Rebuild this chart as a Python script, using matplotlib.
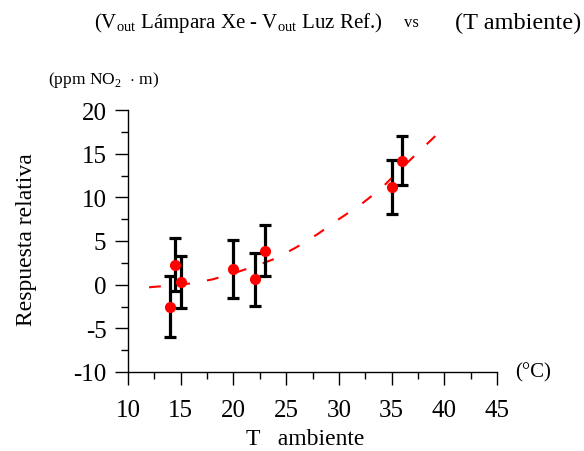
import matplotlib

matplotlib.use("Agg")
import matplotlib.pyplot as plt
from matplotlib.ticker import MultipleLocator

plt.rcParams["font.family"] = ["Liberation Serif", "DejaVu Serif"]
plt.rcParams["mathtext.fontset"] = "custom"
plt.rcParams["mathtext.rm"] = "Liberation Serif"
plt.rcParams["axes.unicode_minus"] = False
plt.rcParams["lines.scale_dashes"] = False

# measured points
temp = [14.0, 14.5, 15.0, 20.0, 22.0, 23.0, 35.0, 36.0]
resp = [-2.5, 2.3, 0.3, 1.8, 0.6, 3.9, 11.2, 14.2]
resp_err = [3.5, 3.0, 3.0, 3.3, 3.0, 2.9, 3.1, 2.8]

# dashed trend curve
fit_temp = [12, 14, 16, 18, 20, 22, 24, 26, 28, 30, 32, 34, 36, 38, 40]
fit_resp = [-0.3, -0.1, 0.15, 0.6, 1.3, 2.1, 3.0, 4.3, 5.8, 7.5, 9.1, 11.0, 13.4, 15.7, 18.0]

fig = plt.figure(figsize=(5.84, 4.52), dpi=100)
W, H = 584, 452
ax = fig.add_axes([128 / W, 1 - 373 / H, (497 - 128) / W, (373 - 111) / H])

ax.plot(fit_temp, fit_resp, color="#ff0000", lw=1.5, dashes=(8.5, 12.5), zorder=1)
ax.errorbar(temp, resp, yerr=resp_err, fmt="none", ecolor="black",
            elinewidth=2.3, capsize=4, capthick=2.3, zorder=2)
ax.plot(temp, resp, "o", color="#ff0000", markersize=7, zorder=3)

ax.set_xlim(10, 45)
ax.set_ylim(-10, 20)
ax.xaxis.set_major_locator(MultipleLocator(5))
ax.xaxis.set_minor_locator(MultipleLocator(2.5))
ax.yaxis.set_major_locator(MultipleLocator(5))
ax.yaxis.set_minor_locator(MultipleLocator(2.5))
ax.tick_params(which="major", direction="out", length=9.5, width=1.0,
               labelsize=18, color="black")
ax.tick_params(which="minor", direction="out", length=5, width=1.0)
ax.tick_params(axis="x", which="major", pad=10)
ax.tick_params(axis="y", which="major", pad=6)
for side in ("top", "right"):
    ax.spines[side].set_visible(False)
for side in ("left", "bottom"):
    ax.spines[side].set_linewidth(1.0)

fig.text(27 / W, 1 - 240 / H, "Respuesta relativa", fontsize=17, rotation=90,
         ha="center", va="center")
fig.text(305 / W, 1 - 440 / H, "T   ambiente", fontsize=17, ha="center", va="center")
fig.text(515 / W, 1 - 373 / H, "(°C)", fontsize=15, ha="left", va="center")
fig.text(48 / W, 1 - 80 / H, r"(ppm NO$_2$  $\cdot$ m)", fontsize=12.5, ha="left", va="center")

fig.text(94 / W, 1 - 23 / H, r"(V$_{\mathrm{out}}$ Lámpara Xe - V$_{\mathrm{out}}$ Luz Ref.)",
         fontsize=15, ha="left", va="center")
fig.text(411 / W, 1 - 23 / H, "vs", fontsize=12, ha="center", va="center")
fig.text(581 / W, 1 - 23 / H, "(T ambiente)", fontsize=17.5, ha="right", va="center")

fig.savefig("out.png", dpi=100)
